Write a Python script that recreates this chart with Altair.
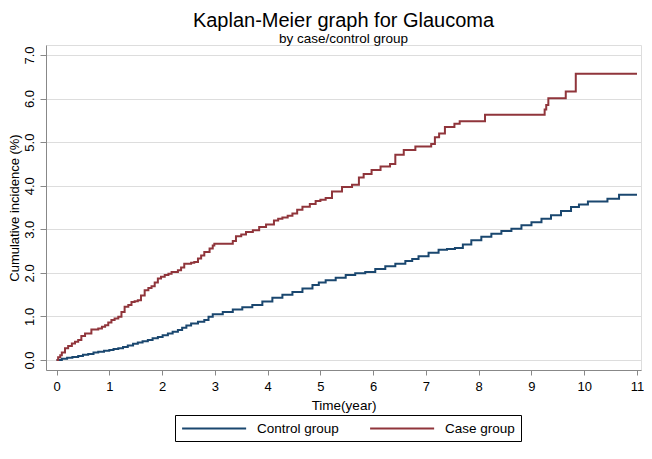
import altair as alt
import pandas as pd

# Case group (Kaplan-Meier cumulative incidence, %)
case_time = [0, 0.03, 0.07, 0.1, 0.16, 0.22, 0.29, 0.35, 0.41, 0.47, 0.54, 0.66, 0.79, 0.86, 0.92, 0.98,
             1.04, 1.1, 1.17, 1.23, 1.29, 1.36, 1.42, 1.48, 1.54, 1.6, 1.67, 1.74, 1.8, 1.86, 1.92, 1.98,
             2.05, 2.12, 2.18, 2.3, 2.36, 2.42, 2.55, 2.61, 2.68, 2.74, 2.8, 2.9, 2.96, 2.99, 3.34, 3.4,
             3.5, 3.59, 3.72, 3.84, 3.97, 4.12, 4.2, 4.28, 4.38, 4.47, 4.56, 4.66, 4.8, 4.91, 5.0, 5.1,
             5.22, 5.41, 5.6, 5.73, 5.82, 5.97, 6.14, 6.32, 6.42, 6.58, 6.8, 7.1, 7.17, 7.25, 7.36, 7.54,
             7.64, 8.12, 9.25, 9.28, 9.32, 9.65, 9.84, 11.0]
case_value = [0, 0.06, 0.11, 0.17, 0.27, 0.32, 0.38, 0.42, 0.46, 0.55, 0.61, 0.7, 0.72, 0.76, 0.8, 0.86,
              0.92, 0.95, 0.99, 1.1, 1.22, 1.26, 1.33, 1.35, 1.37, 1.48, 1.6, 1.65, 1.69, 1.78, 1.87, 1.91,
              1.95, 1.98, 2.02, 2.06, 2.12, 2.21, 2.23, 2.25, 2.33, 2.4, 2.48, 2.56, 2.63, 2.67, 2.73, 2.84,
              2.88, 2.94, 2.98, 3.05, 3.11, 3.2, 3.24, 3.27, 3.31, 3.36, 3.45, 3.52, 3.58, 3.65, 3.68, 3.72,
              3.87, 3.97, 4.02, 4.19, 4.27, 4.36, 4.44, 4.5, 4.71, 4.82, 4.9, 4.96, 5.11, 5.2, 5.35, 5.42,
              5.48, 5.63, 5.75, 5.85, 6.01, 6.16, 6.57, 6.57]

# Control group
control_time = [0, 0.1, 0.2, 0.3, 0.41, 0.5, 0.6, 0.7, 0.79, 0.9, 1.0, 1.08, 1.17, 1.26, 1.35, 1.45,
                1.54, 1.63, 1.73, 1.82, 1.92, 2.01, 2.11, 2.2, 2.3, 2.38, 2.46, 2.55, 2.68, 2.8, 2.88,
                2.96, 3.15, 3.34, 3.52, 3.71, 3.9, 4.09, 4.28, 4.47, 4.66, 4.85, 4.97, 5.1, 5.29, 5.48,
                5.66, 5.85, 6.04, 6.23, 6.42, 6.61, 6.74, 6.86, 7.05, 7.24, 7.4, 7.55, 7.7, 7.86, 8.05,
                8.24, 8.43, 8.62, 8.81, 9.0, 9.19, 9.37, 9.56, 9.75, 9.9, 10.07, 10.44, 10.66, 11.0]
control_value = [0, 0.03, 0.05, 0.07, 0.09, 0.12, 0.14, 0.17, 0.19, 0.21, 0.23, 0.25, 0.27, 0.3, 0.33, 0.37,
                 0.4, 0.43, 0.46, 0.5, 0.53, 0.57, 0.61, 0.65, 0.69, 0.74, 0.79, 0.84, 0.88, 0.92, 0.99,
                 1.05, 1.1, 1.16, 1.21, 1.26, 1.34, 1.43, 1.5, 1.56, 1.64, 1.72, 1.78, 1.83, 1.89, 1.95,
                 1.99, 2.02, 2.09, 2.15, 2.21, 2.27, 2.32, 2.38, 2.46, 2.53, 2.55, 2.57, 2.65, 2.75, 2.83,
                 2.9, 2.96, 3.01, 3.09, 3.16, 3.24, 3.32, 3.42, 3.51, 3.57, 3.64, 3.7, 3.79, 3.79]

groups = ["Control group", "Case group"]
colors = ["#1a476f", "#90353b"]
x_ticks = list(range(0, 12))
y_ticks = list(range(0, 8))

df = pd.concat([
    pd.DataFrame({"group": groups[0], "time": control_time, "value": control_value, "order": range(len(control_time))}),
    pd.DataFrame({"group": groups[1], "time": case_time, "value": case_value, "order": range(len(case_time))}),
])

FONT = "Liberation Sans"

chart = alt.Chart(df).mark_line(interpolate="step-after", strokeWidth=2).encode(
    x=alt.X("time:Q",
            scale=alt.Scale(domain=[-0.2, 11.076], nice=False, zero=False),
            axis=alt.Axis(values=x_ticks, title="Time(year)", grid=False, tickSize=5,
                          labelFontSize=13, titleFontSize=13.5, titleFontWeight="normal",
                          labelPadding=5, titlePadding=5, labelFlush=False)),
    y=alt.Y("value:Q",
            scale=alt.Scale(domain=[-0.23, 7.23], nice=False, zero=False),
            axis=alt.Axis(values=y_ticks, format=".1f", title="Cumulative incidence (%)",
                          grid=True, tickSize=6, labelAngle=270, labelAlign="center",
                          labelBaseline="bottom", labelPadding=4,
                          labelFontSize=13, titleFontSize=13, titleFontWeight="normal",
                          titlePadding=2)),
    color=alt.Color("group:N",
                    scale=alt.Scale(domain=groups, range=colors),
                    legend=alt.Legend(orient="none", legendX=129, legendY=370,
                                      direction="horizontal", title=None,
                                      strokeColor="black", fillColor="white", padding=6,
                                      symbolType="M-1,0H9", symbolSize=164, symbolStrokeWidth=2,
                                      labelFontSize=13.5, labelFont=FONT, labelColor="black",
                                      labelOffset=61, columnPadding=27)),
    order="order:Q",
).properties(
    width=595,
    height=325,
    autosize=alt.AutoSizeParams(type="none"),
    padding={"left": 38, "top": 37, "right": 3, "bottom": 74},
    title=alt.TitleParams(text="Kaplan-Meier graph for Glaucoma",
                          subtitle="by case/control group",
                          fontSize=20, subtitleFontSize=13.5, font=FONT, subtitleFont=FONT,
                          fontWeight="normal", color="black", subtitleColor="black",
                          anchor="middle", frame="group", offset=0, subtitlePadding=1),
).configure_axis(
    labelFont=FONT, titleFont=FONT, labelColor="black", titleColor="black",
    domainColor="#222222", tickColor="#222222", domainWidth=1, tickWidth=1,
    gridColor="#e6eff2", gridWidth=1,
).configure_view(
    stroke=None,
).configure(background="white")

chart.save("out.html", embed_options={"renderer": "svg", "actions": False})
